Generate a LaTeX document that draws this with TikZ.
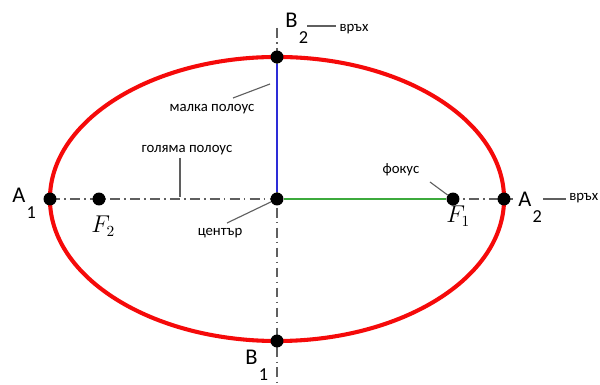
\documentclass[tikz,border=0pt]{standalone}
\usepackage{fontspec}
\setsansfont{Carlito}
\usetikzlibrary{positioning, calc}
\definecolor{elred}{RGB}{245,10,10}
\definecolor{elblue}{RGB}{45,45,215}
\definecolor{elgreen}{RGB}{60,170,60}
\definecolor{elgray}{RGB}{95,95,95}
\newcommand{\vtx}[2]{#1\kern1pt\raisebox{-11pt}{\fontsize{13}{14}\selectfont #2}}

\begin{document}
\begin{tikzpicture}[x=0.025cm, y=-0.025cm,
  pt/.style={circle, fill=black, inner sep=0pt, minimum size=9.2pt},
  axisline/.style={draw=elgray, line width=0.75pt, dash pattern=on 7pt off 3pt on 1.2pt off 3pt},
  lead/.style={draw=elgray, line width=0.8pt},
  note/.style={font=\sffamily\fontsize{10.5}{12}\selectfont, inner sep=0pt},
  vert/.style={font=\sffamily\fontsize{16}{17}\selectfont, inner sep=0pt, anchor=base west},
  foc/.style={font=\fontsize{16}{18}\selectfont, inner sep=0pt, anchor=base west}
]
\useasboundingbox (0,0) rectangle (600,385);
\coordinate (o) at (277,199);
\coordinate (xbeg) at (50,199);
\coordinate (xend) at (513,199);
\coordinate (ytop) at (277,28);
\coordinate (ybot) at (277,385);
\draw[axisline] (xbeg) -- (xend);
\draw[axisline] (ytop) -- (ybot);
\draw[elred, line width=2.9pt] (o) ellipse [x radius=5.675cm, y radius=3.55cm];
\node[pt] (O) at (o) {};
\node[pt] (A1) at (50,199) {};
\node[pt] (A2) at (504,199) {};
\node[pt] (B2) at (277,57) {};
\node[pt] (B1) at (277,341) {};
\node[pt] (F2) at (99,199) {};
\node[pt] (F1) at (453,199) {};
\draw[elblue, line width=1.5pt] (O) -- (B2);
\draw[elgreen, line width=1.8pt] (O) -- (F1);
% vertex labels
\node[vert] (la1) at (12,203) {\vtx{A}{1}};
\node[vert] (la2) at (518,207) {\vtx{A}{2}};
\node[vert] (lb2) at (285,28) {\vtx{B}{2}};
\node[vert] (lb1) at (245,365) {\vtx{B}{1}};
\node[foc] (lf2) at (91,233) {$F_2$};
\node[foc] (lf1) at (446,223) {$F_1$};
% notes
\node[note] (top2) at (354,29) {връх};
\node[note, anchor=west] (top1) at (569,198) {връх};
\node[note] (minor) at (212,109) {малка полоус};
\node[note] (major) at (187,150) {голяма полоус};
\node[note] (cnt) at (220,233) {център};
\node[note] (fok) at (401,170) {фокус};
\coordinate (t2) at (307,26);
\coordinate (t1) at (543,199);
\coordinate (mk) at (233,98);
\coordinate (mkend) at (270,84);
\coordinate (gl) at (180,158);
\coordinate (glend) at (180,197);
\coordinate (cn) at (227,223);
\coordinate (fk) at (430,182);
\draw[lead] (t2) -- ([xshift=-2pt]t2 -| top2.west);
\draw[lead] (t1) -- ([xshift=-2pt]t1 -| top1.west);
\draw[lead] (mk) -- (mkend);
\draw[lead] (gl) -- (glend);
\draw[lead] (cn) -- (O);
\draw[lead] (fk) -- (F1);
\end{tikzpicture}
\end{document}
